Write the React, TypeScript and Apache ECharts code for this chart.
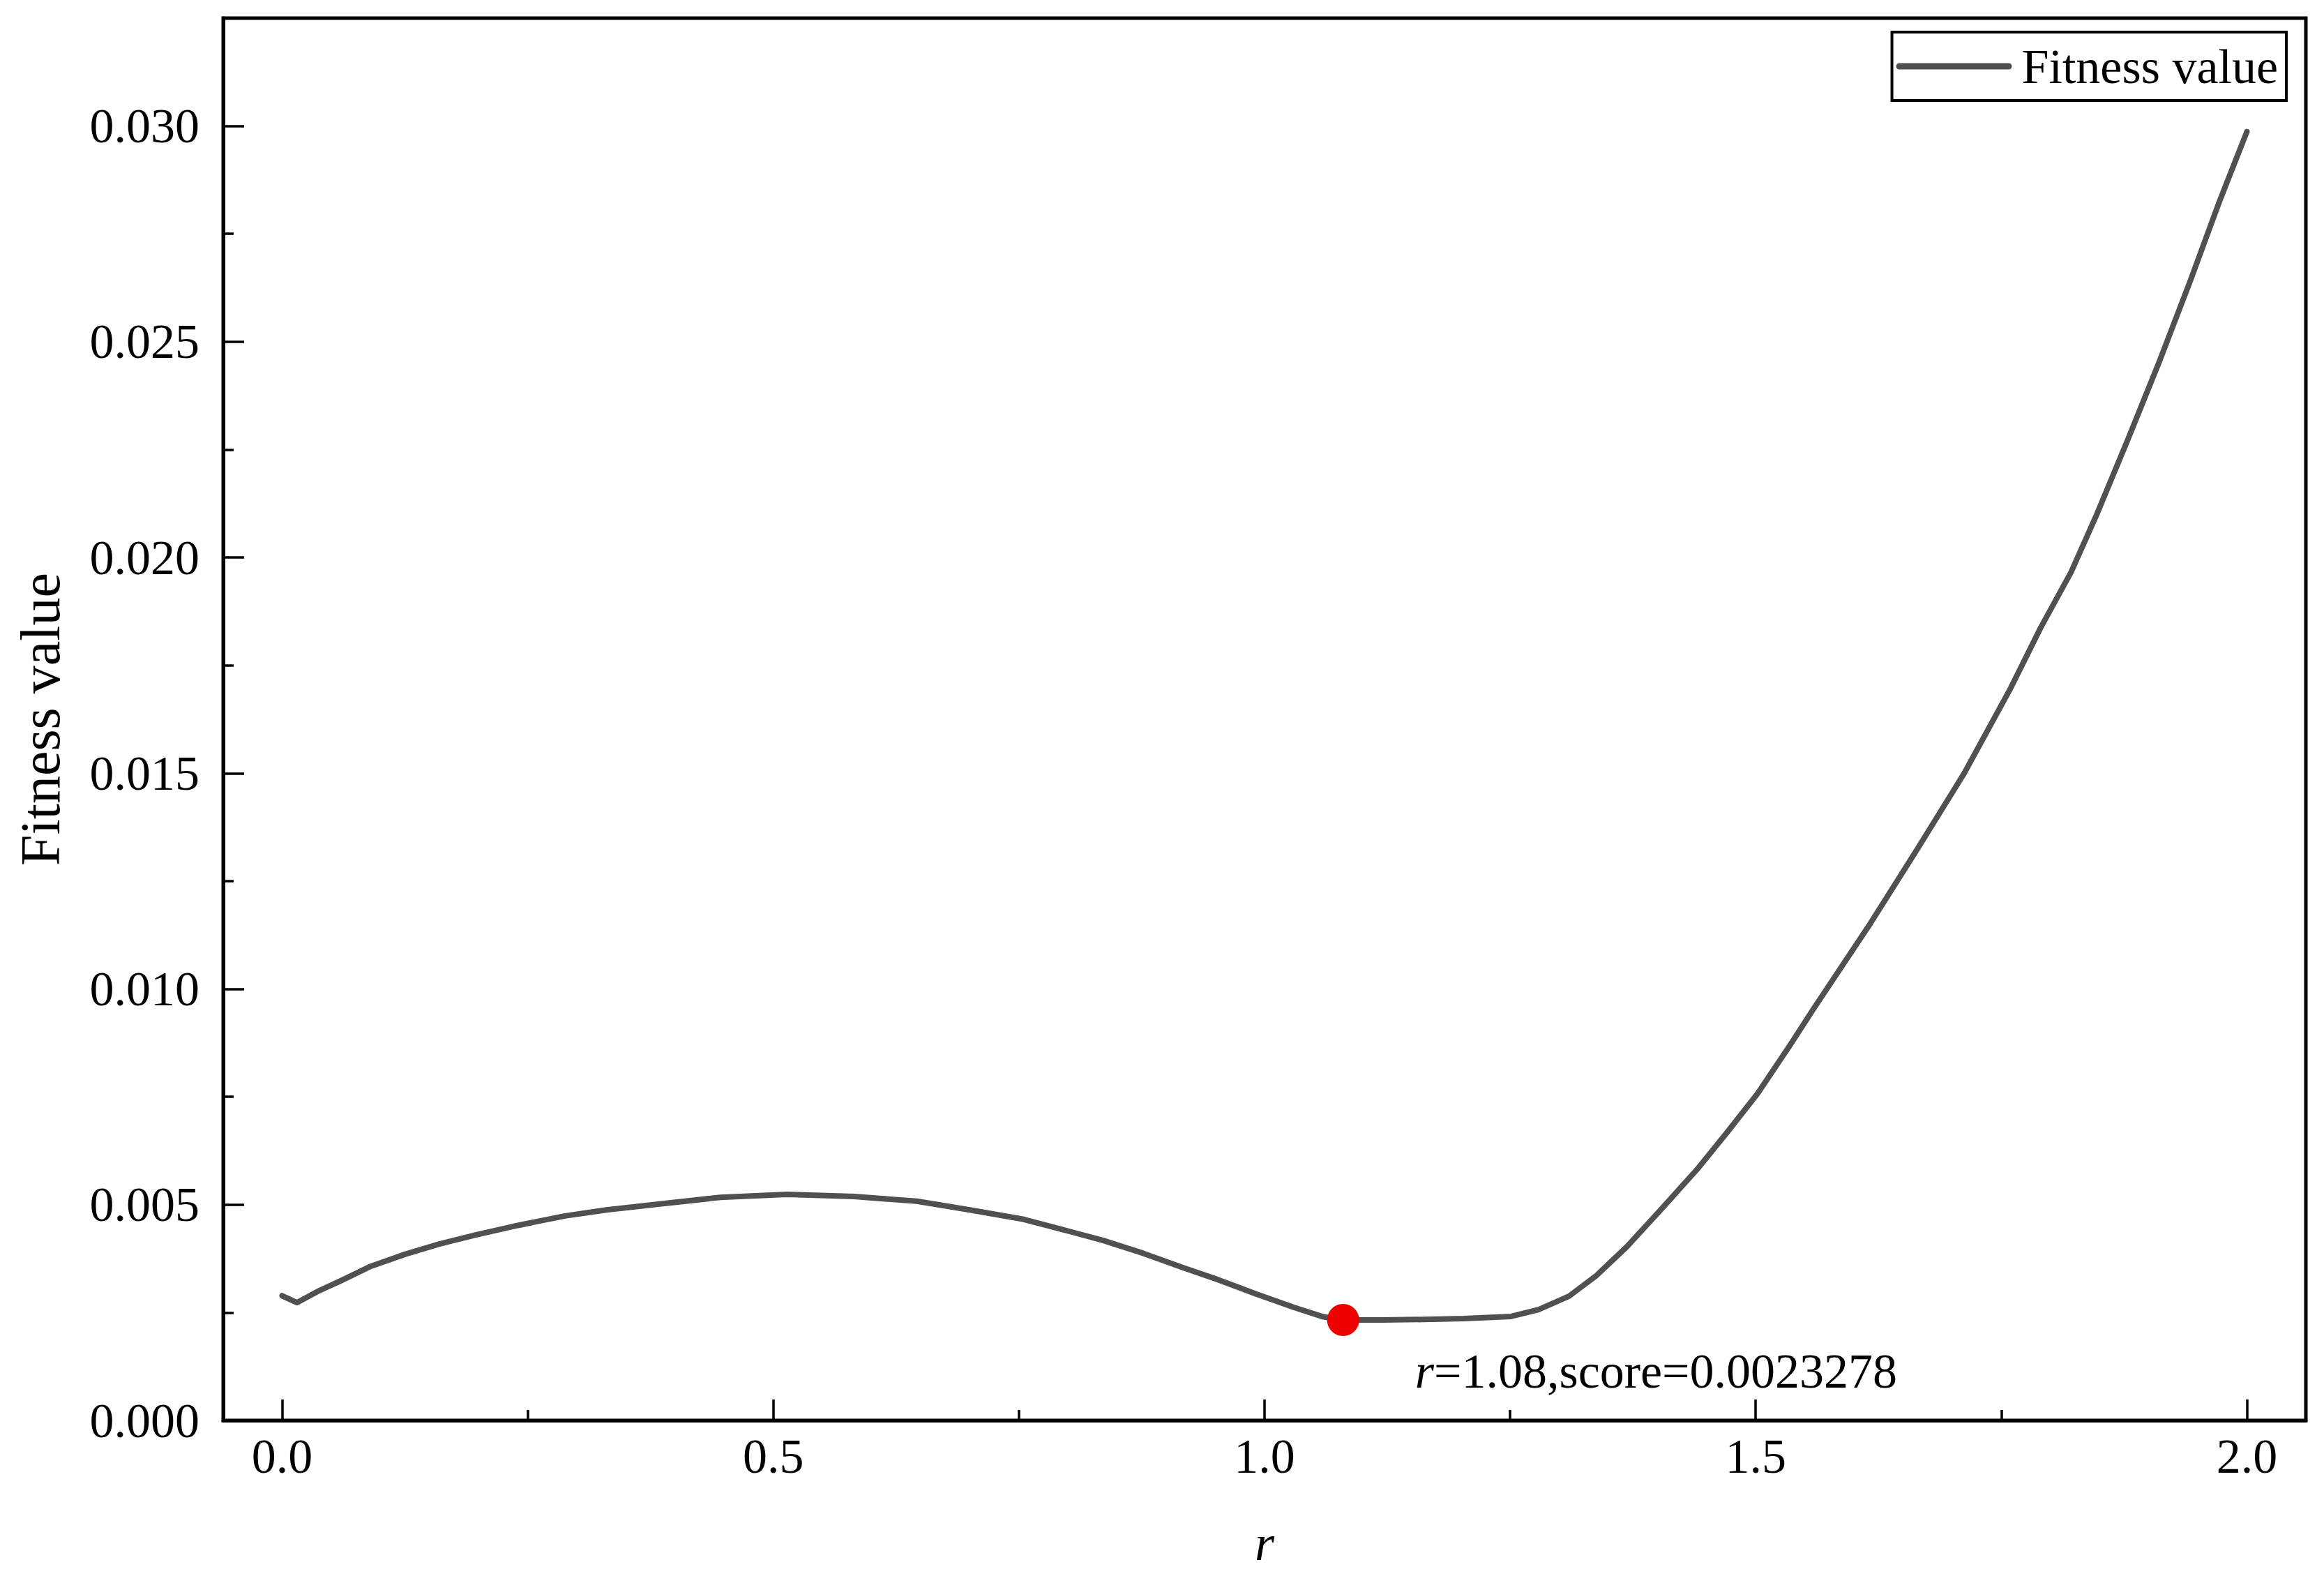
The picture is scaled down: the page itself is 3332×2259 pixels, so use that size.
import { useEffect, useRef } from "react";
import * as echarts from "echarts";

const rValues = [
  0.0, 0.015, 0.038, 0.061, 0.09, 0.125, 0.16, 0.197, 0.24, 0.288, 0.33, 0.378,
  0.446, 0.514, 0.582, 0.646, 0.7, 0.755, 0.8, 0.836, 0.877, 0.917, 0.953, 0.988,
  1.03, 1.06, 1.08, 1.12, 1.162, 1.203, 1.251, 1.279, 1.31, 1.338, 1.369, 1.404,
  1.44, 1.471, 1.502, 1.535, 1.558, 1.617, 1.665, 1.712, 1.759, 1.79, 1.821,
  1.847, 1.878, 1.911, 1.942, 1.972, 2.0,
];
const fitnessValues = [
  0.00289, 0.00273, 0.00301, 0.00325, 0.00357, 0.00385, 0.00409, 0.0043, 0.00452,
  0.00474, 0.00488, 0.005, 0.00517, 0.00524, 0.00519, 0.00508, 0.00488, 0.00466,
  0.00439, 0.00417, 0.00387, 0.00354, 0.00326, 0.00296, 0.00262, 0.0024, 0.0023278,
  0.00233, 0.00234, 0.00236, 0.00241, 0.00257, 0.00288, 0.00336, 0.00403, 0.0049,
  0.00581, 0.00668, 0.00758, 0.0087, 0.00951, 0.01153, 0.01326, 0.01499, 0.01695,
  0.01837, 0.01966, 0.02099, 0.02269, 0.02455, 0.02639, 0.02825, 0.02987,
];
const optimumR = 1.08;
const optimumScore = 0.0023278;

const xTickValues = [0, 0.5, 1, 1.5, 2];
const xMinorTickValues = [0.25, 0.75, 1.25, 1.75];
const yTickValues = [0, 0.005, 0.01, 0.015, 0.02, 0.025, 0.03];
const yMinorTickValues = [0.0025, 0.0075, 0.0125, 0.0175, 0.0225, 0.0275];

const seriesName = "Fitness value";
const xAxisTitle = "r";
const yAxisTitle = "Fitness value";

export default function App() {
  const ref = useRef<HTMLDivElement>(null);

  useEffect(() => {
    const chart = echarts.init(ref.current!, null, { renderer: "svg" });
    const font = "'Liberation Serif', 'Times New Roman', serif";
    const black = "#000";
    const lineColor = "#505050";

    chart.setOption({
      animation: false,
      backgroundColor: "#fff",
      grid: {
        left: 320,
        right: 26,
        top: 26,
        bottom: 223,
        show: true,
        borderColor: black,
        borderWidth: 5,
        backgroundColor: "transparent",
      },
      legend: {
        data: [
          {
            name: seriesName,
            icon: "path://M4.5,0 L161.5,0 A4.5,4.5 0 0 1 161.5,9 L4.5,9 A4.5,4.5 0 0 1 4.5,0 Z",
            itemStyle: { color: lineColor },
          },
        ],
        right: 54,
        top: 46,
        backgroundColor: "#fff",
        borderColor: black,
        borderWidth: 4,
        borderRadius: 0,
        padding: [14, 12, 14, 6],
        itemWidth: 166,
        itemHeight: 9,
        itemGap: 0,
        textStyle: {
          fontFamily: font,
          fontSize: 70,
          color: black,
          padding: [0, 0, 0, 9],
        },
      },
      xAxis: [
        {
          type: "value",
          min: -0.06,
          max: 2.06,
          position: "bottom",
          name: xAxisTitle,
          nameLocation: "middle",
          nameGap: 140,
          nameTextStyle: {
            fontFamily: font,
            fontSize: 72,
            fontStyle: "italic",
            color: black,
          },
          axisLine: { show: true, onZero: false, lineStyle: { color: black, width: 5 } },
          axisTick: {
            show: true,
            inside: true,
            length: 30,
            customValues: xTickValues,
            lineStyle: { color: black, width: 3.5 },
          },
          axisLabel: {
            show: true,
            customValues: xTickValues,
            formatter: (v: number) => v.toFixed(1),
            margin: 16,
            fontFamily: font,
            fontSize: 70,
            color: black,
          },
          splitLine: { show: false },
        },
        {
          type: "value",
          min: -0.06,
          max: 2.06,
          position: "bottom",
          axisLine: { show: false, onZero: false },
          axisTick: {
            show: true,
            inside: true,
            length: 15,
            customValues: xMinorTickValues,
            lineStyle: { color: black, width: 3.5 },
          },
          axisLabel: { show: false },
          splitLine: { show: false },
        },
      ],
      yAxis: [
        {
          type: "value",
          min: 0,
          max: 0.0325,
          position: "left",
          name: yAxisTitle,
          nameLocation: "middle",
          nameGap: 222,
          nameTextStyle: {
            fontFamily: font,
            fontSize: 80,
            color: black,
          },
          axisLine: { show: true, onZero: false, lineStyle: { color: black, width: 5 } },
          axisTick: {
            show: true,
            inside: true,
            length: 30,
            customValues: yTickValues,
            lineStyle: { color: black, width: 3.5 },
          },
          axisLabel: {
            show: true,
            customValues: yTickValues,
            formatter: (v: number) => v.toFixed(3),
            margin: 34,
            fontFamily: font,
            fontSize: 70,
            color: black,
          },
          splitLine: { show: false },
        },
        {
          type: "value",
          min: 0,
          max: 0.0325,
          position: "left",
          axisLine: { show: false, onZero: false },
          axisTick: {
            show: true,
            inside: true,
            length: 15,
            customValues: yMinorTickValues,
            lineStyle: { color: black, width: 3.5 },
          },
          axisLabel: { show: false },
          splitLine: { show: false },
        },
      ],
      series: [
        {
          name: seriesName,
          type: "line",
          xAxisIndex: 0,
          yAxisIndex: 0,
          data: rValues.map((r, i) => [r, fitnessValues[i]]),
          symbol: "none",
          smooth: false,
          lineStyle: { color: lineColor, width: 8, cap: "round", join: "round" },
          itemStyle: { color: lineColor },
          z: 3,
        },
        {
          name: "optimum",
          type: "scatter",
          xAxisIndex: 0,
          yAxisIndex: 0,
          data: [[optimumR, optimumScore]],
          symbol: "circle",
          symbolSize: 46,
          itemStyle: { color: "#EE0000", opacity: 1 },
          z: 5,
          label: {
            show: true,
            position: [126, 96],
            align: "left",
            verticalAlign: "middle",
            fontFamily: font,
            fontSize: 70,
            color: black,
            formatter: `{i|r}=${optimumR.toFixed(2)},score=${optimumScore}`,
            rich: {
              i: { fontFamily: font, fontSize: 70, fontStyle: "italic", color: black },
            },
          },
        },
      ],
    });

    return () => chart.dispose();
  }, []);

  return (
    <div
      ref={ref}
      style={{ position: "fixed", left: 0, top: 0, width: 3332, height: 2259, background: "#fff" }}
    />
  );
}
